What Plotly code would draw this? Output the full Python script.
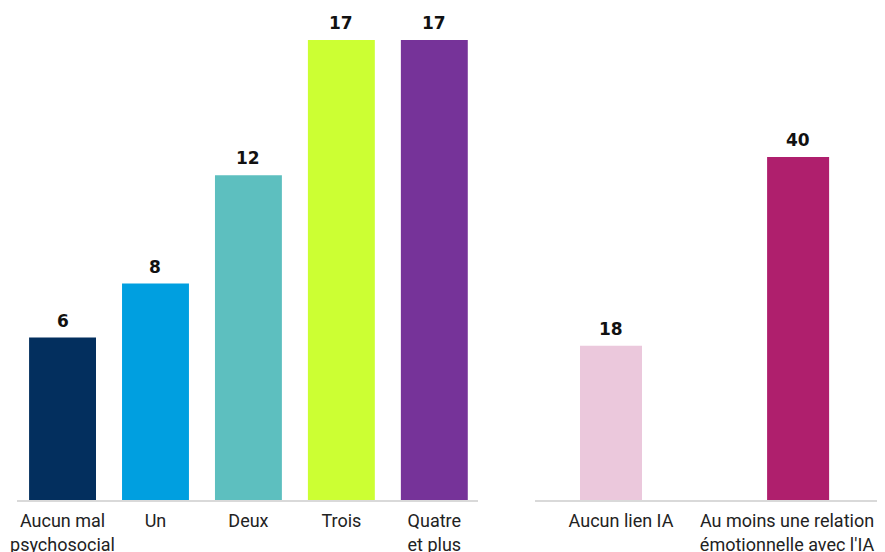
import plotly.graph_objects as go
from plotly.subplots import make_subplots

# Left panel: number of psychosocial issues
left_labels = ["Aucun mal<br>psychosocial", "Un", "Deux", "Trois", "Quatre<br>et plus"]
left_values = [6, 8, 12, 17, 17]
left_colors = ["#032F5E", "#009FE0", "#5DBFBF", "#CCFF33", "#763399"]

# Right panel: emotional link with AI
right_labels = ["Aucun lien IA", "Au moins une relation<br>émotionnelle avec l'IA"]
right_values = [18, 40]
right_colors = ["#EBC8DC", "#AF1F6D"]

W, H = 885, 552  # page body has an 8px margin, so pixel positions are offset by 8

fig = make_subplots(rows=1, cols=2, horizontal_spacing=0.0)

fig.add_trace(go.Bar(
    x=left_labels, y=left_values, width=0.72,
    marker=dict(color=left_colors, line=dict(width=0)),
    hoverinfo="skip", showlegend=False,
), row=1, col=1)

# bars sit a little off the label centres in the right panel
fig.add_trace(go.Bar(
    x=right_labels, y=right_values, width=0.3735, offset=[-0.247, -0.120],
    marker=dict(color=right_colors, line=dict(width=0)),
    hoverinfo="skip", showlegend=False,
), row=1, col=2)

# Value labels above bars
for xref, yref, labels, values, shifts in [("x", "y", left_labels, left_values, [0] * 5),
                                           ("x2", "y2", right_labels, right_values, [-10, 11])]:
    for lab, val, dx in zip(labels, values, shifts):
        fig.add_annotation(
            x=lab, y=val, xref=xref, yref=yref,
            text=f"<b>{val}</b>", showarrow=False,
            yanchor="bottom", yshift=5, xshift=dx,
            font=dict(family="DejaVu Sans", size=17, color="#111111"),
        )

fig.update_layout(
    width=W, height=H,
    margin=dict(l=0, r=0, t=0, b=60, autoexpand=False),
    plot_bgcolor="white", paper_bgcolor="white",
    font=dict(family="Roboto", size=18, color="#222222"),
)

axis_common = dict(showgrid=False, zeroline=False, automargin=False,
                   ticks="outside", ticklen=4, tickcolor="rgba(0,0,0,0)",
                   showline=True, linecolor="#d9d9d9", linewidth=1.5,
                   tickfont=dict(family="Roboto", size=18, color="#222222"))

fig.update_xaxes(domain=[9 / W, 470 / W], range=[-0.49, 4.47], **axis_common, row=1, col=1)
fig.update_xaxes(domain=[527 / W, 872 / W], range=[-0.518, 1.56], **axis_common, row=1, col=2)

fig.update_yaxes(visible=False, range=[0, 18.18], row=1, col=1)
fig.update_yaxes(visible=False, range=[0, 57.38], row=1, col=2)

fig.write_html("out.html")
